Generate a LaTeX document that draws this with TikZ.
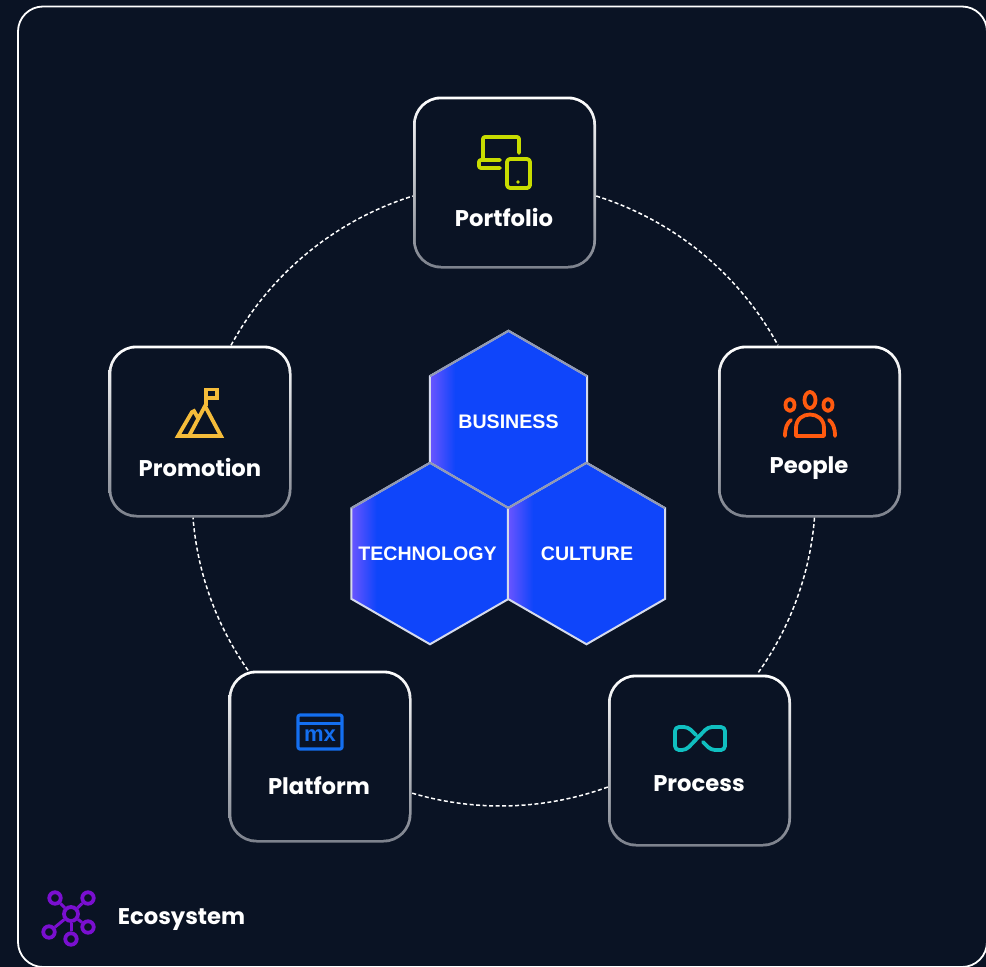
\documentclass[tikz,border=0pt]{standalone}
\usepackage{fontspec}
\setmainfont{Poppins}
\newfontfamily\hexfont{Liberation Sans}
\usetikzlibrary{shapes.geometric}

\definecolor{bgdark}{HTML}{0A1324}
\definecolor{hexblue}{HTML}{0F45FA}
\definecolor{hexpurple}{HTML}{6A55FF}
\definecolor{hexedge}{HTML}{D5DAEC}
\definecolor{hexdim}{HTML}{9199B2}
\definecolor{cardgray}{HTML}{7C818C}
\definecolor{limeicon}{HTML}{C8DC00}
\definecolor{orangeicon}{HTML}{FF5A0F}
\definecolor{yellowicon}{HTML}{F5BC3A}
\definecolor{blueicon}{HTML}{146FF0}
\definecolor{tealicon}{HTML}{10BFC0}
\definecolor{purpleicon}{HTML}{7A0FD0}

\pgfdeclarehorizontalshading{hexshade}{100bp}{color(0bp)=(hexpurple); color(25bp)=(hexpurple); color(33bp)=(hexblue); color(100bp)=(hexblue)}

\tikzset{
  card/.style={rectangle, minimum width=183, minimum height=172, inner sep=0, rounded corners=28, shade, top color=white, bottom color=cardgray},
  cardin/.style={rectangle, minimum width=177.5, minimum height=166.5, inner sep=0, rounded corners=25.5, fill=bgdark},
  cardtext/.style={text=white, font=\fontsize{22.7}{26}\selectfont\bfseries, inner sep=0},
  hex/.style={regular polygon, regular polygon sides=6, shape border rotate=-30, minimum size=181.5, inner sep=0, outer sep=0, shading=hexshade, draw=hexedge, line width=2},
  hextext/.style={text=white, font=\hexfont\fontsize{19.6}{22}\selectfont\bfseries, inner sep=0},
  ringline/.style={white, line width=1.5, dash pattern=on 4pt off 2.5pt},
  icon/.style={line width=3.8, line join=round, line cap=round},
  econode/.style={circle, draw=purpleicon, line width=3.8, inner sep=0, minimum size=13},
}

\begin{document}
\begin{tikzpicture}[x=1pt,y=-1pt]
        \useasboundingbox (0,0) rectangle (986,967);
        \fill[bgdark] (0,0) rectangle (986,967);
        \draw[white, line width=1.8, rounded corners=25] (18,6.5) rectangle (987,967);

        % cards
        \foreach \cname/\cx/\cy in {portfolio/504.5/182.5, people/809.5/431.5, process/699.5/760.5, platform/320/756.5, promotion/200/431.5} {
                \node[card] (\cname) at (\cx,\cy) {};
                \node[cardin] (\cname in) at (\cx,\cy) {};
        }
        \node[cardtext] (portfoliotext) at (504,217) {Portfolio};
        \node[cardtext] (peopletext) at (809,468) {People};
        \node[cardtext] (processtext) at (699,784) {Process};
        \node[cardtext] (platformtext) at (319,786) {Platform};
        \node[cardtext] (promotiontext) at (200,467) {Promotion};

        % ring
        \path[ringline] ([yshift=-13.5]portfolio.east) edge[bend left=22, looseness=.885] ([xshift=-31.5]people.north);
        \path[ringline] ([xshift=5]people.south) edge[bend left=15.7, looseness=.865] ([xshift=57.5]process.north);
        \path[ringline] ([yshift=-26.5]process.west) edge[bend left=18.4, looseness=.87] ([yshift=-36.5]platform.east);
        \path[ringline] ([xshift=-72]platform.north) edge[bend left=15.3, looseness=.865] ([xshift=-7]promotion.south);
        \path[ringline] ([xshift=31]promotion.north) edge[bend left=22, looseness=.885] ([yshift=-13.5]portfolio.west);

        % hexagons
        \node[hex] (business) at (508.5,421.5) {};
        \node[hex] (technology) at (430,553.5) {};
        \node[hex] (culture) at (586.5,553.5) {};
        \foreach \hname in {business,technology,culture} {
                \draw[hexdim, line width=2, line join=round] (\hname.corner 1) -- (\hname.corner 2) -- (\hname.corner 3);
        }
        \node[hextext] (businesstext) at (508.5,421.5) {BUSINESS};
        \node[hextext] (technologytext) at (427.5,553.5) {TECHNOLOGY};
        \node[hextext] (culturetext) at (587,553.5) {CULTURE};

        % portfolio icon
        \draw[icon, limeicon, rounded corners=2] (483,159) -- (483,137) -- (519,137) -- (519,153);
        \draw[icon, limeicon, rounded corners=2] (500,160) -- (479,160) -- (479,168) -- (500,168);
        \draw[icon, limeicon, rounded corners=3] (507,159) rectangle (530,188);
        \fill[limeicon] (518,182) circle (1.8);

        % people icon
        \draw[icon, orangeicon] (810,400) ellipse (5.5 and 8);
        \draw[icon, orangeicon] (790,405) ellipse (4.5 and 6);
        \draw[icon, orangeicon] (828,405) ellipse (4.5 and 6);
        \draw[icon, orangeicon] (796,436) -- (796,428) .. controls (796,410) and (824,410) .. (824,428) -- (824,436) -- cycle;
        \draw[icon, orangeicon] (785,436) .. controls (785,428) and (787,423) .. (791,420);
        \draw[icon, orangeicon] (835,436) .. controls (835,428) and (833,423) .. (829,420);

        % promotion icon
        \draw[icon, yellowicon, line cap=butt, line join=miter] (206,406) -- (206,389.5) -- (217,389.5) -- (217,398) -- (206,398);
        \draw[icon, yellowicon, line cap=butt, line join=miter] (189,436) -- (205,406) -- (221,436) -- (178,436) -- (192,412) -- (194,411) -- (198,418);

        % platform icon
        \draw[icon, blueicon, rounded corners=2, line width=3.2] (298,715) rectangle (342,749);
        \draw[blueicon, line width=3] (298,723) -- (342,723);
        \node[text=blueicon, font=\hexfont\fontsize{22}{24}\selectfont\bfseries, inner sep=0] (mx) at (320,735.5) {mx};

        % process icon
        \draw[icon, tealicon, rounded corners=4] (696,735) -- (688,727) -- (675,727) -- (675,750) -- (686,750) -- (708,727) -- (725,727) -- (725,750) -- (711,750) -- (703,742);

        % ecosystem icon
        \node[econode, minimum size=14] (hub) at (71,914) {};
        \node[econode, minimum size=11.5] (ecoa) at (55,898) {};
        \node[econode, minimum size=11.5] (ecob) at (88,898) {};
        \node[econode, minimum size=11.5] (ecoc) at (49,932) {};
        \node[econode, minimum size=11.5] (ecod) at (88,927) {};
        \node[econode, minimum size=11.5] (ecoe) at (71,939) {};
        \foreach \eco in {ecoa,ecob,ecoc,ecod,ecoe} {
                \draw[purpleicon, line width=3] (hub) -- (\eco);
        }
        \node[cardtext] (ecosystem) at (181.5,920) {Ecosystem};
\end{tikzpicture}
\end{document}
